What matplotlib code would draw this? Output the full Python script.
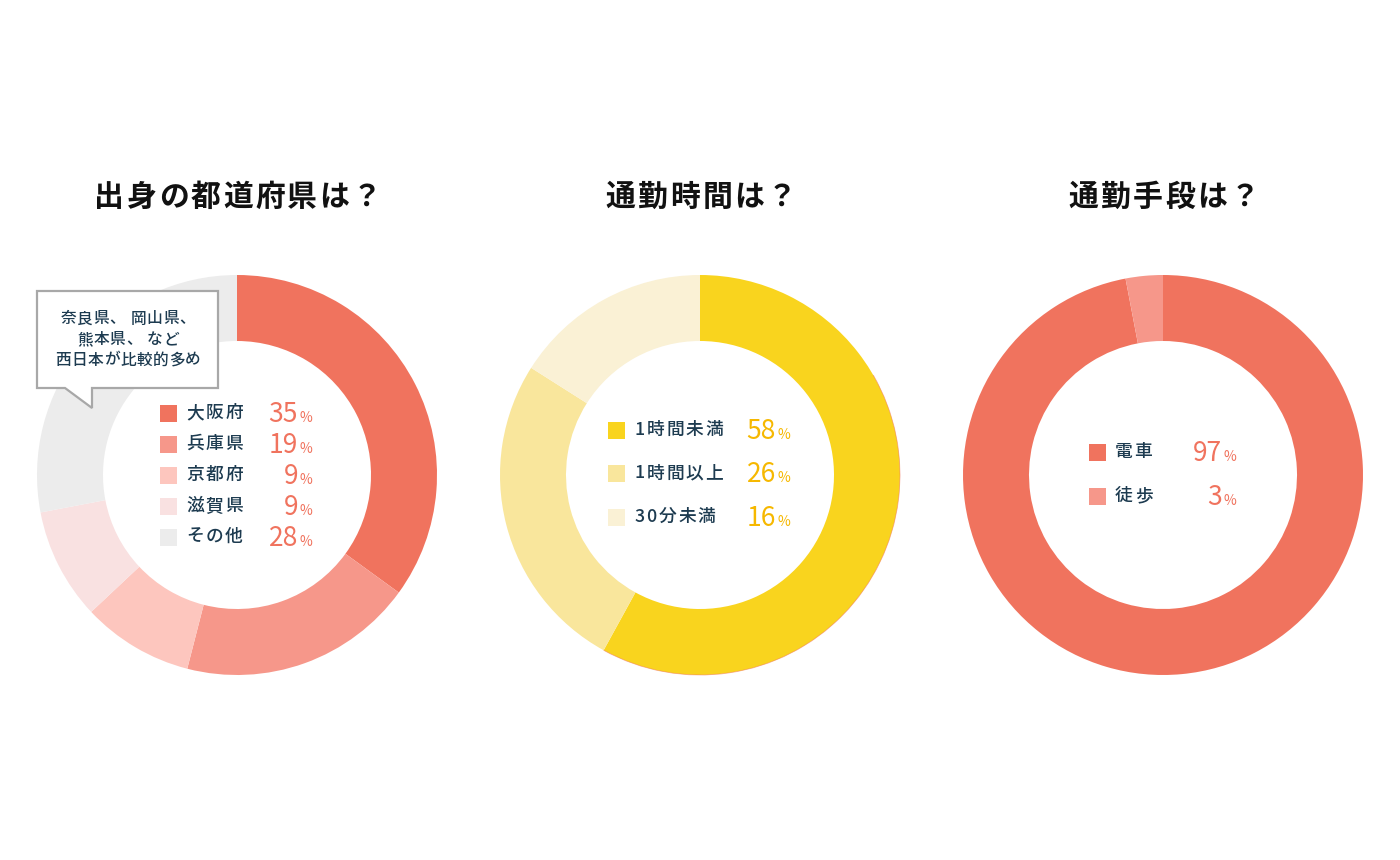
import matplotlib
matplotlib.use("Agg")
import matplotlib.pyplot as plt
from matplotlib.patches import Polygon, Rectangle, Arc

plt.rcParams["font.family"] = ["Noto Sans CJK JP", "DejaVu Sans"]

# =========================
# DATA
# =========================
titles = ["出身の都道府県は？", "通勤時間は？", "通勤手段は？"]

origin_labels = ["大阪府", "兵庫県", "京都府", "滋賀県", "その他"]
origin_values = [35, 19, 9, 9, 28]
origin_colors = ["#f0735e", "#f6978a", "#fdc6be", "#f9e1e1", "#ececec"]

time_labels = ["1時間未満", "1時間以上", "30分未満"]
time_values = [58, 26, 16]
time_colors = ["#f9d41e", "#f9e69c", "#faf1d5"]

means_labels = ["電車", "徒歩"]
means_values = [97, 3]
means_colors = ["#f0735e", "#f6978a"]

callout_lines = ["奈良県、 岡山県、", "熊本県、 など", "西日本が比較的多め"]

# =========================
# LAYOUT (pixels, y measured from top)
# =========================
W, H = 1400, 860
NAVY = "#1d3b50"
CENTERS_X = [237, 700, 1163]
CENTER_Y = 475
R_OUT, R_IN = 200, 134
PX = 100 / 72  # px per pt

charts = [
    dict(labels=origin_labels, values=origin_values, colors=origin_colors,
         pct_color="#f0735e", sq_x=160, row0=413, step=31, lab_x=186, num_x=298),
    dict(labels=time_labels, values=time_values, colors=time_colors,
         pct_color="#f6b800", sq_x=608, row0=430, step=43.5, lab_x=635, num_x=776),
    dict(labels=means_labels, values=means_values, colors=means_colors,
         pct_color="#f0735e", sq_x=1089, row0=452, step=44, lab_x=1115, num_x=1222),
]

fig = plt.figure(figsize=(W / 100, H / 100), dpi=100)
ax = fig.add_axes([0, 0, 1, 1])


def Y(py):
    return H - py


def advance(ch, em):
    if ch == " ":
        return 0.25 * em
    if ord(ch) > 0x2E80 or ch in "？":
        return em
    return 0.56 * em


def tracked(x, py, s, size, track, ha="left", **kw):
    """Text with letter spacing, char by char (pixel coords)."""
    em = size * PX
    widths = [advance(ch, em) for ch in s]
    total = sum(widths) + track * (len(s) - 1)
    left = x if ha == "left" else x - total / 2
    for ch, w in zip(s, widths):
        if ch != " ":
            ax.text(left + w / 2, Y(py), ch, ha="center", va="center",
                    fontsize=size, **kw)
        left += w + track


for i, c in enumerate(charts):
    cx = CENTERS_X[i]
    ax.pie(c["values"], colors=c["colors"], startangle=90, counterclock=False,
           center=(cx, Y(CENTER_Y)), radius=R_OUT,
           wedgeprops=dict(width=R_OUT - R_IN, linewidth=0))
    tracked(cx + 1, 197, titles[i], 21.5, 2.3, ha="center",
            fontweight="bold", color="#111111")

    # legend rows in the hole
    for j, (lab, val, col) in enumerate(zip(c["labels"], c["values"], c["colors"])):
        yy = c["row0"] + j * c["step"]
        ax.add_patch(Rectangle((c["sq_x"], Y(yy) - 8.5), 17, 17,
                               facecolor=col, edgecolor="none"))
        tracked(c["lab_x"], yy, lab, 12.8, 1.8, fontweight="medium", color=NAVY)
        ax.text(c["num_x"], Y(yy + 9), str(val), ha="right", va="baseline",
                fontsize=19, color=c["pct_color"])
        ax.text(c["num_x"] + 2, Y(yy + 9), "%", ha="left", va="baseline",
                fontsize=10, color=c["pct_color"])

# faint red rim on the yellow ring
ax.add_patch(Arc((CENTERS_X[1], Y(CENTER_Y)), 2 * R_OUT, 2 * R_OUT,
                 theta1=-118.8, theta2=30, color="#f0735e", linewidth=0.6, alpha=0.55))

# speech bubble on the first chart
bubble = Polygon([(37, Y(291)), (218, Y(291)), (218, Y(388)), (92, Y(388)),
                  (92, Y(408)), (65, Y(388)), (37, Y(388))],
                 closed=True, facecolor="white", edgecolor="#a8a8a8", linewidth=1.6)
ax.add_patch(bubble)
for k, line in enumerate(callout_lines):
    tracked(128, 319 + k * 20.5, line, 11.3, 0.6, ha="center",
            fontweight="medium", color=NAVY)

ax.set_xlim(0, W)
ax.set_ylim(0, H)
ax.set_aspect("equal")
ax.axis("off")

fig.savefig("out.png", dpi=100, facecolor="white")
